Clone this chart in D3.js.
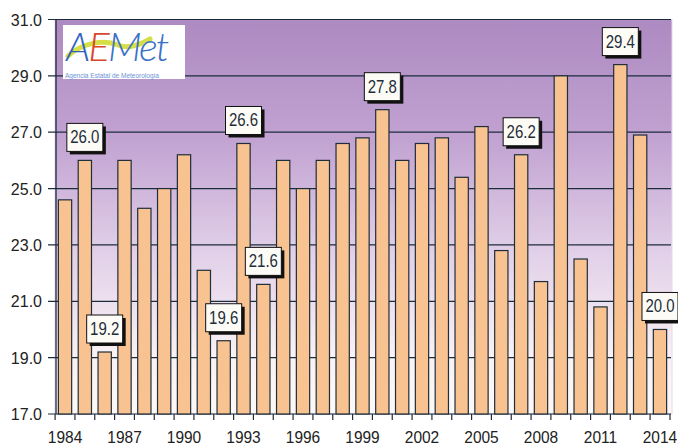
<!DOCTYPE html>
<html lang="es">
  <head>
    <title>Temperatura por año</title>
    <meta charset="utf-8">
    <script src="https://d3js.org/d3.v7.min.js"></script>
    <style>
      body { margin: 0; background: #fff; }
      text { font-family: "Liberation Sans", Arial, sans-serif; }
    </style>
  </head>

  <body>
    <svg></svg>

    <script>
      // Datos
      const years = d3.range(1984, 2015)
      const temps = [24.6, 26.0, 19.2, 26.0, 24.3, 25.0, 26.2, 22.1, 19.6, 26.6,
                     21.6, 26.0, 25.0, 26.0, 26.6, 26.8, 27.8, 26.0, 26.6, 26.8,
                     25.4, 27.2, 22.8, 26.2, 21.7, 29.0, 22.5, 20.8, 29.4, 26.9, 20.0]
      const labeledYears = [1985, 1986, 1992, 1993, 1994, 2000, 2007, 2012, 2014]
      const yTicks = [17, 19, 21, 23, 25, 27, 29, 31]
      const xLabelYears = [1984, 1987, 1990, 1993, 1996, 1999, 2002, 2005, 2008, 2011, 2014]

      const data = years.map((y, i) => ({ year: y, value: temps[i] }))

      const W = 678, H = 446
      const svg = d3.select('svg').attr('width', W).attr('height', H)

      const x = d3.scaleBand()
        .domain(years)
        .range([55, 670])
        .paddingInner(0.33)
        .paddingOuter(0.17)

      const y = d3.scaleLinear()
        .domain([17, 31])
        .range([414, 19.5])

      // fondo degradado
      const defs = svg.append('defs')
      const grad = defs.append('linearGradient')
        .attr('id', 'fondo')
        .attr('x1', 0).attr('y1', 0).attr('x2', 0).attr('y2', 1)
      grad.append('stop').attr('offset', 0).attr('stop-color', '#ad8ac1')
      grad.append('stop').attr('offset', 0.3).attr('stop-color', '#c1a2d1')
      grad.append('stop').attr('offset', 0.6).attr('stop-color', '#e2d1e9')
      grad.append('stop').attr('offset', 0.85).attr('stop-color', '#f9f1f4')
      grad.append('stop').attr('offset', 1).attr('stop-color', '#fdf9f8')

      svg.append('rect')
        .attr('x', 55).attr('y', y(31))
        .attr('width', 672 - 55).attr('height', y(17) - y(31))
        .attr('fill', 'url(#fondo)')
        .attr('stroke', '#e6d6ee')
        .attr('stroke-width', 1)

      // líneas de rejilla
      svg.append('g')
        .selectAll('line')
        .data(yTicks)
        .join('line')
          .attr('x1', 48).attr('x2', 671)
          .attr('y1', d => y(d)).attr('y2', d => y(d))
          .attr('stroke', '#1c2c3c')
          .attr('stroke-width', 1.2)

      svg.append('g')
        .selectAll('text')
        .data(yTicks)
        .join('text')
          .attr('x', 42).attr('y', d => y(d) + 6)
          .attr('text-anchor', 'end')
          .attr('font-size', 16)
          .attr('fill', '#222')
          .text(d => d3.format('.1f')(d))

      // logo AEMET
      const logo = svg.append('g')
      logo.append('rect')
        .attr('x', 63).attr('y', 25).attr('width', 122).attr('height', 54)
        .attr('fill', '#fff')
      logo.append('path')
        .attr('d', 'M68,56 C82,43 104,39 118,45 C128,49 140,45 150,39')
        .attr('fill', 'none')
        .attr('stroke', '#d6df48')
        .attr('stroke-width', 5)
        .attr('stroke-linecap', 'round')
      const lt = logo.append('text')
        .attr('x', 66).attr('y', 61)
        .attr('font-size', 40)
        .attr('font-style', 'italic')
        .attr('font-weight', 300)
        .style('font-family', 'Lato, sans-serif')
        .attr('letter-spacing', -2)
      lt.append('tspan').attr('fill', '#2f62c0').text('A')
      lt.append('tspan').attr('fill', '#d9472b').text('E')
      lt.append('tspan').attr('fill', '#3a70c8').text('Met')
      logo.append('text')
        .attr('x', 65).attr('y', 78)
        .attr('font-size', 6.5)
        .attr('fill', '#6a93d6')
        .text('Agencia Estatal de Meteorología')

      // barras
      svg.append('g')
        .selectAll('rect')
        .data(data)
        .join('rect')
          .attr('x', d => x(d.year))
          .attr('y', d => y(d.value))
          .attr('width', x.bandwidth())
          .attr('height', d => y(17) - y(d.value))
          .attr('fill', '#f8c291')
          .attr('stroke', '#1e2e3a')
          .attr('stroke-width', 1.2)

      // eje vertical y marcas del eje x
      svg.append('line')
        .attr('x1', 56).attr('x2', 56)
        .attr('y1', y(31)).attr('y2', y(17))
        .attr('stroke', '#1c2c3c').attr('stroke-width', 1.3)

      const bounds = years.map(d => x(d) - x.step() * x.paddingInner() / 2)
      bounds.push(670)
      svg.append('g')
        .selectAll('line')
        .data(bounds)
        .join('line')
          .attr('x1', d => d).attr('x2', d => d)
          .attr('y1', y(17)).attr('y2', y(17) + 6)
          .attr('stroke', '#1c2c3c').attr('stroke-width', 1.2)

      svg.append('g')
        .selectAll('text')
        .data(xLabelYears)
        .join('text')
          .attr('transform', d => `translate(${x(d) + x.bandwidth() / 2},443) scale(1,1.1)`)
          .attr('text-anchor', 'middle')
          .attr('font-size', 15.5)
          .attr('fill', '#222')
          .text(d => d)

      // etiquetas de valores
      const lab = svg.append('g')
        .selectAll('g')
        .data(data.filter(d => labeledYears.includes(d.year)))
        .join('g')
          .attr('transform', d => `translate(${x(d.year) + x.bandwidth() / 2},${y(d.value) - 9})`)

      lab.append('rect')
        .attr('x', -18 + 3).attr('y', -28 + 3)
        .attr('width', 36).attr('height', 28)
        .attr('fill', '#111')
      lab.append('rect')
        .attr('x', -18).attr('y', -28)
        .attr('width', 36).attr('height', 28)
        .attr('fill', '#fdfbf6')
        .attr('stroke', '#111')
        .attr('stroke-width', 1)
      lab.append('text')
        .attr('transform', 'translate(0,-8) scale(1,1.2)')
        .attr('text-anchor', 'middle')
        .attr('font-size', 15)
        .attr('fill', '#1e2e3a')
        .text(d => d3.format('.1f')(d.value))
    </script>
  </body>
</html>
